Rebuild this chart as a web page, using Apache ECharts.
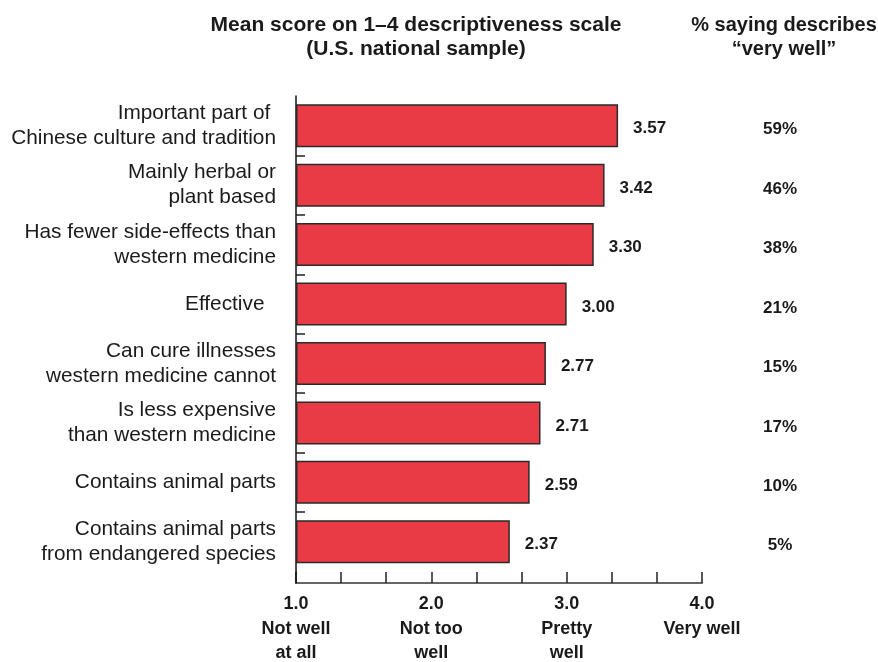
<!DOCTYPE html>
<html>
<head>
<meta charset="utf-8">
<script src="https://cdn.jsdelivr.net/npm/echarts@6/dist/echarts.min.js"></script>
<style>
html,body{margin:0;padding:0;background:#fff;}
#chart{width:878px;height:662px;}
</style>
</head>
<body>
<div id="chart"></div>
<script>
// ---- data ----
const categories = [
  'Important part of \nChinese culture and tradition',
  'Mainly herbal or\nplant based',
  'Has fewer side-effects than\nwestern medicine',
  'Effective  ',
  'Can cure illnesses\nwestern medicine cannot',
  'Is less expensive\nthan western medicine',
  'Contains animal parts',
  'Contains animal parts\nfrom endangered species'
];
const meanScores = [3.57, 3.42, 3.30, 3.00, 2.77, 2.71, 2.59, 2.37];
const pctVeryWell = [59, 46, 38, 21, 15, 17, 10, 5];
const xTickValues = [0, 1.5, 3, 4.5];
const xTickNumbers = ['1.0', '2.0', '3.0', '4.0'];
const xTickWords = ['Not well\nat all', 'Not too\nwell', 'Pretty\nwell', 'Very well'];
const titleLeft = 'Mean score on 1\u20134 descriptiveness scale\n(U.S. national sample)';
const titleRight = '% saying describes\n\u201cvery well\u201d';

// ---- layout ----
const GRID_LEFT = 296, GRID_RIGHT = 176, GRID_TOP = 96, GRID_BOTTOM = 90, X_OFFSET = 11.5;
const FONT = '"Liberation Sans", Arial, sans-serif';
const TXT = '#1a1a1a';

const chart = echarts.init(document.getElementById('chart'), null, {renderer: 'canvas'});

const option = {
  animation: false,
  backgroundColor: '#fff',
  textStyle: {fontFamily: FONT, color: TXT},
  title: [
    {text: titleLeft, left: 411, top: 8, textAlign: 'center',
     textStyle: {fontFamily: FONT, fontSize: 21, fontWeight: 'bold', color: TXT, lineHeight: 24}},
    {text: titleRight, left: 779, top: 8, textAlign: 'center',
     textStyle: {fontFamily: FONT, fontSize: 20, fontWeight: 'bold', color: TXT, lineHeight: 24}}
  ],
  grid: {left: GRID_LEFT, right: GRID_RIGHT, top: GRID_TOP, bottom: GRID_BOTTOM, containLabel: false},
  xAxis: {
    type: 'value', min: 0, max: 4.5, interval: 0.5, offset: X_OFFSET,
    axisLine: {show: true, lineStyle: {color: '#666', width: 2}},
    axisTick: {show: true, inside: true, length: 11, lineStyle: {color: '#222', width: 1.5}},
    splitLine: {show: false},
    axisLabel: {
      show: true, margin: 9, showMinLabel: true, showMaxLabel: true,
      formatter: function (v) {
        for (let i = 0; i < xTickValues.length; i++) {
          if (Math.abs(v - xTickValues[i]) < 1e-6) {
            return '{n|' + xTickNumbers[i] + '}\n' + xTickWords[i].split('\n').map(s => '{d|' + s + '}').join('\n');
          }
        }
        return '';
      },
      rich: {
        n: {fontFamily: FONT, fontSize: 18, fontWeight: 'bold', color: TXT, lineHeight: 25},
        d: {fontFamily: FONT, fontSize: 18, fontWeight: 'bold', color: TXT, lineHeight: 24}
      }
    }
  },
  yAxis: [
    {
      type: 'category', data: categories, inverse: true,
      axisLine: {show: true, lineStyle: {color: '#111', width: 1.5}},
      axisTick: {show: true, inside: true, length: 9, interval: function (idx) { return idx > 0; },
                 lineStyle: {color: '#222', width: 1.5}},
      axisLabel: {margin: 20, fontFamily: FONT, fontSize: 20.8, color: TXT, lineHeight: 25, align: 'right'}
    },
    {
      type: 'category', data: categories, inverse: true, position: 'right',
      axisLine: {show: false}, axisTick: {show: false},
      axisLabel: {
        margin: 78, align: 'center',
        formatter: function (v, idx) { return '{p|' + pctVeryWell[idx] + '%}'; },
        rich: {
          p: {fontFamily: FONT, fontSize: 17, fontWeight: 'bold', color: TXT, padding: [8, 0, 0, 0]}
        }
      }
    }
  ],
  series: [{
    type: 'bar', data: meanScores, yAxisIndex: 0, barWidth: 43,
    itemStyle: {color: '#E93B45', borderColor: '#2a2a2a', borderWidth: 1.5},
    label: {
      show: true, position: 'right', distance: 15, offset: [0, 3],
      fontFamily: FONT, fontSize: 17, fontWeight: 'bold', color: TXT,
      formatter: function (p) { return p.value.toFixed(2); }
    }
  }],
  graphic: [
    {
      type: 'line', z: 10,
      shape: {x1: GRID_LEFT, y1: 662 - GRID_BOTTOM, x2: GRID_LEFT, y2: 662 - GRID_BOTTOM + X_OFFSET},
      style: {stroke: '#111', lineWidth: 1.5}
    },
    {
      // hide the closing band tick at the bottom of the category axis
      type: 'rect', z: 10,
      shape: {x: GRID_LEFT + 1, y: 662 - GRID_BOTTOM - 2, width: 10, height: 4},
      style: {fill: '#fff'}
    }
  ]
};
chart.setOption(option);
</script>
</body>
</html>
